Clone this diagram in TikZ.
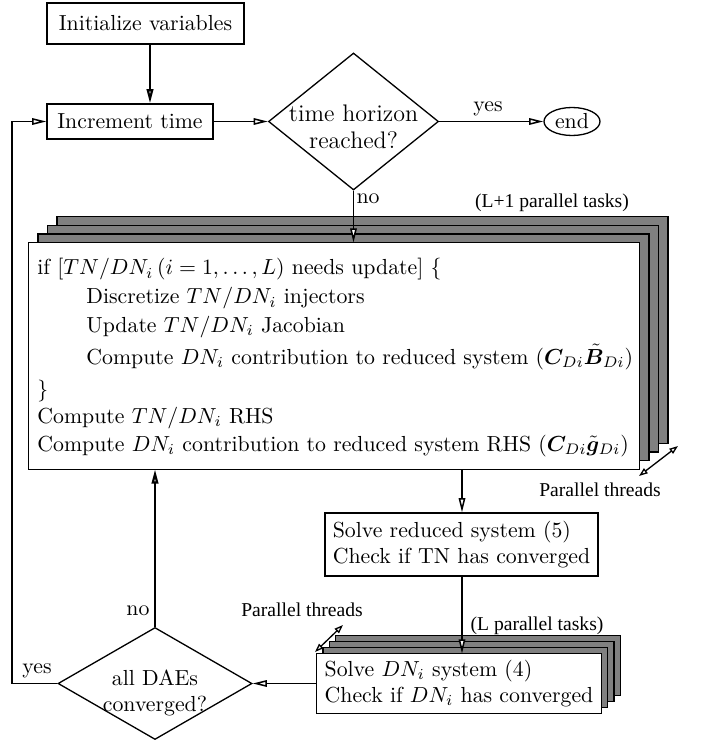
\documentclass[tikz,border=0pt]{standalone}
\usepackage{amsmath}
\usepackage{bm}
\usepackage{fontspec}
\usetikzlibrary{shapes.geometric,arrows.meta,calc}
\newfontfamily\lblfont{Liberation Serif}
\def\PX{0.459pt}
\begin{document}
\begin{tikzpicture}[x=0.459pt,y=-0.459pt,
  box/.style={draw,line width=0.6pt,inner sep=1pt,align=left},
  tip/.style={-{Triangle[open,fill=white,length=6.5pt,width=3pt]}},
  flow/.style={line width=0.7pt,tip},
  thickflow/.style={line width=1pt,tip},
  lbl/.style={font=\lblfont\fontsize{9}{10}\selectfont,inner sep=0},
  dbl/.style={line width=0.6pt,{Triangle[open,fill=white,length=4pt,width=2.8pt]}-{Triangle[open,fill=white,length=4pt,width=2.8pt]}},
  layer/.style={draw,line width=0.6pt,fill=gray},
  txt/.style={anchor=base west,inner sep=0}]
\useasboundingbox (0,0) rectangle (702,743);

% top part
\node[box,minimum width=197*\PX,minimum height=41*\PX] (init) at (145.5,23.5) {Initialize variables};
\node[box,minimum width=166*\PX,minimum height=35*\PX] (inc) at (130,121.5) {Increment time};
\node[draw,diamond,line width=0.6pt,inner sep=0,minimum width=170*\PX,minimum height=137*\PX] (d1) at (353.5,121.5) {};
\node[align=center,inner sep=0,font=\fontsize{11}{12.5}\selectfont] (d1t) at (353.5,127) {time horizon\\reached?};
\node[draw,ellipse,line width=0.6pt,inner sep=0,minimum width=56*\PX,minimum height=28*\PX] (end) at (572,121.5) {end};
\node[inner sep=0] (yes1) at (488,109) {yes};
\node[inner sep=0] (no1) at (368,199) {no};

% main stack
\node[inner sep=0,minimum width=610*\PX,minimum height=226*\PX] (main) at (334,356) {};
\foreach \k in {3,2,1}
  \draw[layer] ($(main.north west)+(\k*9.5,-\k*8.7)$) rectangle ($(main.south east)+(\k*9.5,-\k*8.7)$);
\draw[line width=0.6pt,fill=white] (main.north west) rectangle (main.south east);
\node[txt] (m1) at (37,275) {if $[TN/DN_i\,(i=1,\ldots,L)$ needs update$]$ $\{$};
\node[txt] (m2) at (86,304) {Discretize $TN/DN_i$ injectors};
\node[txt] (m3) at (86,332) {Update $TN/DN_i$ Jacobian};
\node[txt] (m4) at (86,364) {Compute $DN_i$ contribution to reduced system $(\bm{C}_{Di}\tilde{\bm{B}}_{Di})$};
\node[txt] (m5) at (37,396) {$\}$};
\node[txt] (m6) at (37,423) {Compute $TN/DN_i$ RHS};
\node[txt] (m7) at (37,451) {Compute $DN_i$ contribution to reduced system RHS $(\bm{C}_{Di}\tilde{\bm{g}}_{Di})$};
\node[lbl] (tasks1) at (552,203) {(L+1 parallel tasks)};
\node[lbl] (thr1) at (600,490) {Parallel threads};
\coordinate (t1a) at (639,476);
\coordinate (t1b) at (678,446);
\draw[dbl] (t1a) -- (t1b);

% reduced system
\node[box,minimum width=273*\PX,minimum height=63*\PX] (red) at (461.5,544.5) {Solve reduced system (5)\\Check if TN has converged};

% DN stack
\node[inner sep=0,minimum width=284*\PX,minimum height=59*\PX] (dn) at (459,683.5) {};
\foreach \k in {3,2,1}
  \draw[layer] ($(dn.north west)+(\k*6.3,-\k*6)$) rectangle ($(dn.south east)+(\k*6.3,-\k*6)$);
\draw[line width=0.6pt,fill=white] (dn.north west) rectangle (dn.south east);
\node[align=left,inner sep=0] (dnt) at (dn.center) {Solve $DN_i$ system (4)\\Check if $DN_i$ has converged};
\node[lbl] (tasks2) at (537,626) {(L parallel tasks)};
\node[lbl] (thr2) at (302,610) {Parallel threads};
\coordinate (t2a) at (315,652);
\coordinate (t2b) at (343,625);
\draw[dbl] (t2a) -- (t2b);

% convergence diamond
\node[draw,diamond,line width=0.6pt,inner sep=0,minimum width=194*\PX,minimum height=112*\PX] (d2) at (155,683.5) {};
\node[align=center,inner sep=0] (d2t) at (155,693) {all DAEs\\converged?};
\node[inner sep=0] (yes2) at (37,671) {yes};
\node[inner sep=0] (no2) at (138,611) {no};

% connectors
\coordinate (c1) at (150,0);
\coordinate (c2) at (462,0);
\coordinate (lp) at (12,0);
\draw[thickflow] (init.south -| c1) -- (inc.north -| c1);
\draw[flow] (inc.east) -- (d1.west);
\draw[flow] (d1.east) -- (end.west);
\draw[flow] (d1.south) -- (main.north -| d1.south);
\draw[flow] (main.south -| c2) -- (red.north -| c2);
\draw[flow] (red.south -| c2) -- (dn.north -| c2);
\draw[flow] (dn.west) -- (d2.east);
\draw[thickflow] (d2.north) -- (main.south -| d2.north);
\draw[flow] (d2.west) -- (d2.west -| lp) |- (inc.west);
\end{tikzpicture}
\end{document}
